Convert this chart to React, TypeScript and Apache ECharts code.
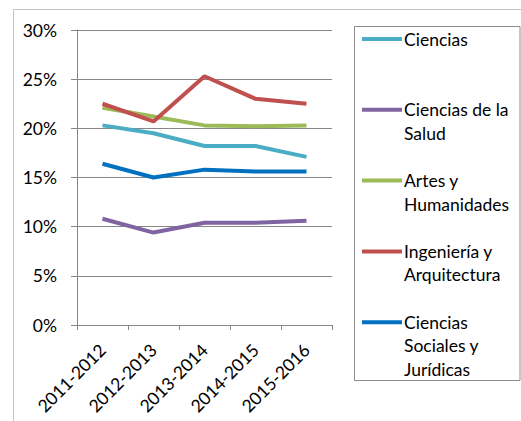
import React, { useEffect, useRef } from "react";
import * as echarts from "echarts";

const categories = ["2011-2012", "2012-2013", "2013-2014", "2014-2015", "2015-2016"];
const seriesNames = [
  "Ciencias",
  "Ciencias de la Salud",
  "Artes y Humanidades",
  "Ingeniería y Arquitectura",
  "Ciencias Sociales y Jurídicas",
];
const legendLabels = [
  "Ciencias",
  "Ciencias de la\nSalud",
  "Artes y\nHumanidades",
  "Ingeniería y\nArquitectura",
  "Ciencias\nSociales y\nJurídicas",
];
const colors = ["#4BACC6", "#8064A2", "#9BBB59", "#C0504D", "#0070C0"];
const ciencias = [20.3, 19.5, 18.2, 18.2, 17.1];
const salud = [10.8, 9.4, 10.4, 10.4, 10.6];
const artes = [22.1, 21.2, 20.3, 20.2, 20.3];
const ingenieria = [22.5, 20.7, 25.3, 23.0, 22.5];
const sociales = [16.4, 15.0, 15.8, 15.6, 15.6];
const seriesValues = [ciencias, salud, artes, ingenieria, sociales];
const yTicks = { min: 0, max: 30, interval: 5 };

const FONT = "Lato, 'Open Sans', sans-serif";
const FS = 17.5;

export default function App() {
  const ref = useRef<HTMLDivElement>(null);
  useEffect(() => {
    document.body.style.margin = "0";
    if (!ref.current) return;
    const chart = echarts.init(ref.current, undefined, { renderer: "svg" });
    const legendTop = 39;
    const legendStep = 70.8;
    const legendGraphics: any[] = [];
    seriesNames.forEach((_, i) => {
      const y = legendTop + i * legendStep;
      legendGraphics.push({
        type: "line",
        shape: { x1: 362, y1: y, x2: 402, y2: y },
        style: { stroke: colors[i], lineWidth: 4 },
        z: 10,
      });
      legendGraphics.push({
        type: "text",
        x: 404,
        y: y - 11.75,
        style: {
          text: legendLabels[i],
          font: `${FS}px ${FONT}`,
          fill: "#000",
          lineHeight: 23.5,
          textVerticalAlign: "top",
          verticalAlign: "top",
        },
        z: 10,
      });
    });
    chart.setOption({
      animation: false,
      textStyle: { fontFamily: FONT },
      grid: { left: 77, top: 30, right: 189, bottom: 96, containLabel: false },
      xAxis: {
        type: "category",
        data: categories,
        boundaryGap: true,
        axisLine: { lineStyle: { color: "#868686", width: 1 } },
        axisTick: { show: true, length: 5, lineStyle: { color: "#868686" } },
        axisLabel: {
          rotate: 45,
          margin: 22,
          color: "#000",
          fontSize: FS,
          fontFamily: FONT,
          interval: 0,
        },
        splitLine: { show: false },
      },
      yAxis: {
        type: "value",
        min: yTicks.min,
        max: yTicks.max,
        interval: yTicks.interval,
        axisLine: { show: true, lineStyle: { color: "#868686", width: 1 } },
        axisTick: { show: true, length: 6, lineStyle: { color: "#868686" } },
        axisLabel: {
          formatter: "{value}%",
          margin: 20,
          color: "#000",
          fontSize: FS,
          fontFamily: FONT,
        },
        splitLine: { show: true, lineStyle: { color: "#868686", width: 1 } },
      },
      series: seriesNames.map((name, i) => ({
        name,
        type: "line",
        data: seriesValues[i],
        showSymbol: false,
        symbol: "none",
        lineStyle: { color: colors[i], width: 4 },
        itemStyle: { color: colors[i] },
        z: 5,
      })),
      graphic: [
        {
          type: "rect",
          shape: { x: 13.5, y: 9.5, width: 700, height: 700 },
          style: { fill: "none", stroke: "#c4c4c4", lineWidth: 1 },
          z: 0,
          silent: true,
        },
        {
          type: "rect",
          shape: { x: 354.5, y: 26.5, width: 165.5, height: 354 },
          style: { fill: "#fff", stroke: "#8c8c8c", lineWidth: 1 },
          z: 9,
        },
        ...legendGraphics,
      ],
    });
    return () => chart.dispose();
  }, []);
  return <div ref={ref} style={{ width: 521, height: 421 }} />;
}
